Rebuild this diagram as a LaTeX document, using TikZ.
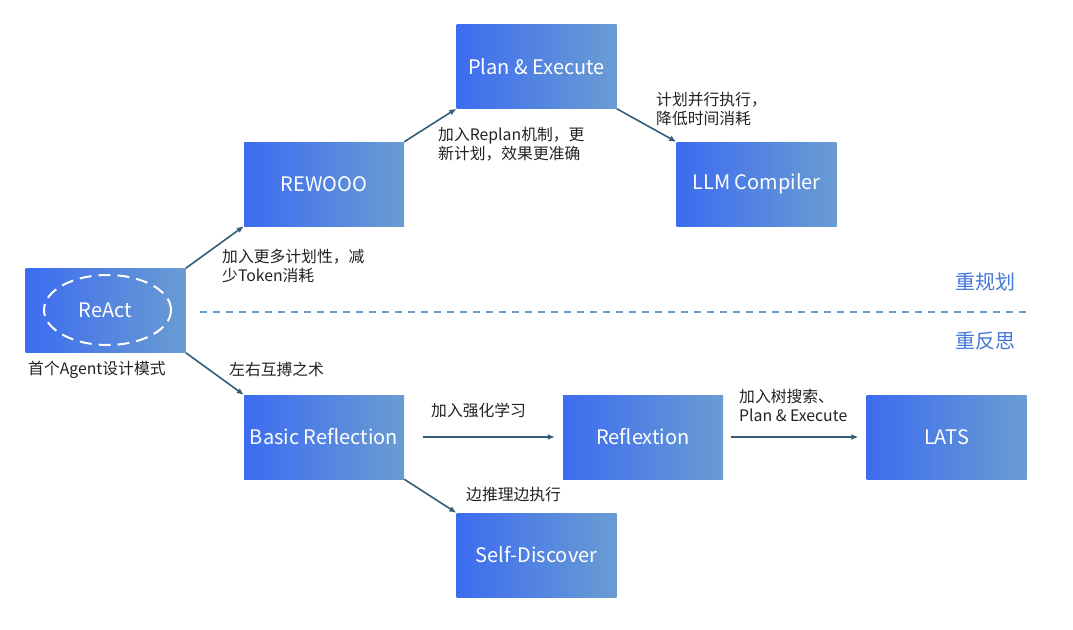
\documentclass[tikz,border=0pt]{standalone}
\usepackage{fontspec}
\setmainfont{Noto Sans CJK SC}
\usetikzlibrary{arrows.meta,positioning}
\definecolor{boxleft}{RGB}{60,108,240}
\definecolor{boxright}{RGB}{106,156,210}
\definecolor{arrowcol}{RGB}{52,94,120}
\definecolor{tagblue}{RGB}{70,118,216}
\definecolor{notegray}{RGB}{34,34,34}

\begin{document}
\begin{tikzpicture}[x=1pt,y=-1pt,on grid,
  main node/.style={rectangle,minimum width=160pt,minimum height=84pt,inner sep=0pt,
    left color=boxleft,right color=boxright,text=white,font=\fontsize{20}{24}\selectfont},
  flow/.style={draw=arrowcol,line width=1.6pt,-{Latex[length=7pt,width=6pt]}},
  note/.style={anchor=north west,align=left,inner sep=0pt,text=notegray,
    font=\fontsize{15.8}{19}\selectfont},
  tag/.style={text=tagblue,font=\fontsize{20}{24}\selectfont},
  dashring/.style={draw=white,line width=2pt,dash pattern=on 12pt off 7pt},
  divider/.style={draw=boxright,line width=1.3pt,dash pattern=on 7pt off 6pt}]

                        \useasboundingbox (0,0) rectangle (1073,629);

                        \node[main node] (1) at (105.5,310.5) {ReAct};
                        \node[main node] (2) [above right=126.5pt and 218.5pt of 1] {REWOOO};
                        \node[main node] (3) [above right=117.5pt and 212.5pt of 2] {Plan \& Execute};
                        \node[main node] (4) [below right=117.5pt and 220pt of 3] {LLM Compiler};
                        \node[main node] (5) [below right=126.5pt and 218.5pt of 1] {Basic Reflection};
                        \node[main node] (6) [right=319pt of 5] {Reflextion};
                        \node[main node] (7) [right=303.5pt of 6] {LATS};
                        \node[main node] (8) [below right=118pt and 212.5pt of 5] {Self-Discover};

                        \draw[dashring] (107.5,310) ellipse (63.5pt and 35pt);

                        %\draw[flow] (1) -- (2);
                        \draw[flow] (1.north east)--(2.south west);
                        \draw[flow] (2.north east)--(3.south west);
                        \draw[flow] (3.south east)--(4.north west);
                        \draw[flow] (1.south east)--(5.north west);
                        \draw[flow] (5.south east)--(8.north west);
                        \draw[flow,shorten <=19pt,shorten >=8pt] (5)--(6);
                        \draw[flow,shorten <=8pt,shorten >=8pt] (6)--(7);

                        \draw[divider] (200,312)--(1027,312);

                        \node[note] (n1) at (28,361) {首个Agent设计模式};
                        \node[note] (n2) at (222,249) {加入更多计划性，减\\少Token消耗};
                        \node[note] (n3) at (438,127) {加入Replan机制，更\\新计划，效果更准确};
                        \node[note] (n4) at (656,92) {计划并行执行，\\降低时间消耗};
                        \node[note] (n5) at (229,362) {左右互搏之术};
                        \node[note] (n6) at (431,403) {加入强化学习};
                        \node[note] (n7) at (739,389) {加入树搜索、\\Plan \& Execute};
                        \node[note] (n8) at (466,487) {边推理边执行};

                        \node[tag] (t1) at (985,282) {重规划};
                        \node[tag] (t2) at (985,341) {重反思};
        \end{tikzpicture}
\end{document}
